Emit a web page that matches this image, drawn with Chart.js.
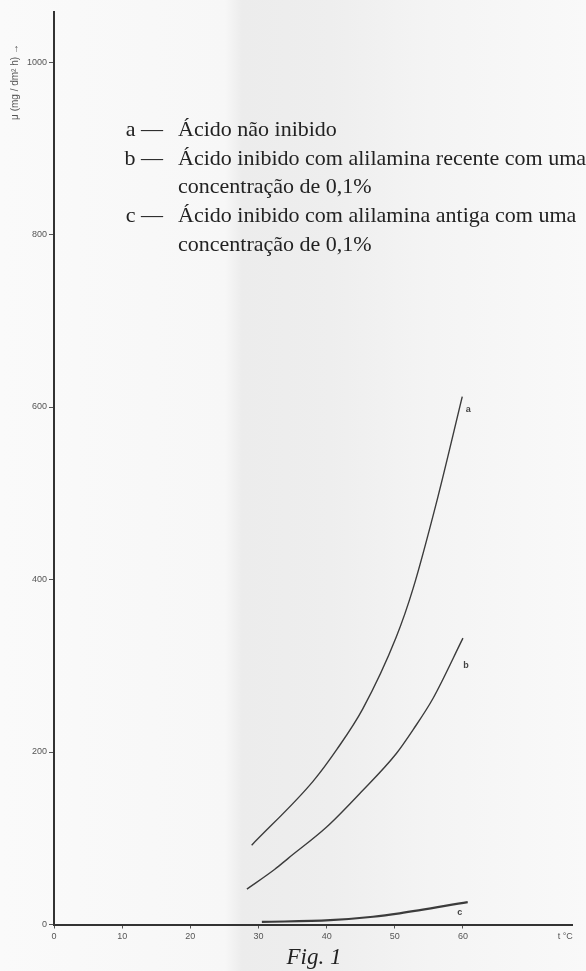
<!DOCTYPE html>
<html>
<head>
<meta charset="utf-8">
<script src="https://cdn.jsdelivr.net/npm/chart.js@4.4.0/dist/chart.umd.min.js"></script>
<style>
  body {
    margin: 0;
    background: linear-gradient(to right, #fafafa 0px, #f7f7f7 225px, #ececec 242px, #eeeeee 330px, #f4f4f4 430px, #f9f9f9 586px);
  }
  #wrap { position: relative; width: 586px; height: 971px; }
</style>
</head>
<body>
<div id="wrap"><canvas id="myChart"></canvas></div>
<script>
// values (t in °C, rate in mg/dm² h)
const tempA = [29, 38, 41.5, 45.3, 50.2, 52.7, 56.3, 59.9];
const rateA = [92, 166, 203, 250, 333, 390, 495, 612];

const tempB = [28.3, 32.4, 34.4, 40, 45, 50.2, 52.7, 55.6, 60];
const rateB = [41, 64, 77, 113, 153, 198, 226, 262, 332];

const tempC = [30.5, 40.5, 46.8, 50.7, 60.7];
const rateC = [3, 5, 9, 13, 26];

const curveNames = ["a", "b", "c"];
const xTicks = [0, 10, 20, 30, 40, 50, 60];
const yTicks = [0, 200, 400, 600, 800, 1000];
const unitTick = 75;
const unitLabel = "t °C";
const yTitle = "μ (mg / dm² h) →";
const figCaption = "Fig. 1";

const legendItems = [
  { key: "a", lines: ["Ácido não inibido"] },
  { key: "b", lines: ["Ácido inibido com alilamina recente com uma", "concentração de 0,1%"] },
  { key: "c", lines: ["Ácido inibido com alilamina antiga com uma", "concentração de 0,1%"] }
];

const toPoints = (xs, ys) => xs.map((x, i) => ({ x: x, y: ys[i] }));

const ink = "#333";

// texts the library has no place for: key, curve letters, axis title, caption
const annotations = {
  id: "annotations",
  afterDraw: (chart) => {
    const ctx = chart.ctx;
    ctx.save();
    ctx.fillStyle = "#222";
    ctx.textBaseline = "middle";

    // key at the top
    ctx.font = '22px "Liberation Serif"';
    let y = 130;
    legendItems.forEach((item) => {
      ctx.textAlign = "right";
      ctx.fillText(item.key + " —", 163, y);
      ctx.textAlign = "left";
      item.lines.forEach((line) => {
        ctx.fillText(line, 178, y);
        y += 28.8;
      });
    });

    // letters next to the curve ends
    const offsets = [[6, 13], [3, 27], [-8, 10]];
    ctx.font = 'bold 9px "Liberation Sans"';
    ctx.fillStyle = "#444";
    ctx.textAlign = "center";
    curveNames.forEach((name, i) => {
      const pts = chart.getDatasetMeta(i).data;
      const last = pts[pts.length - 1];
      ctx.fillText(name, last.x + offsets[i][0], last.y + offsets[i][1]);
    });

    // rotated y title
    ctx.save();
    ctx.translate(15, 82);
    ctx.rotate(-Math.PI / 2);
    ctx.font = '10px "Liberation Sans"';
    ctx.fillStyle = "#555";
    ctx.fillText(yTitle, 0, 0);
    ctx.restore();

    // caption
    ctx.font = 'italic 23px "Liberation Serif"';
    ctx.fillStyle = "#222";
    ctx.textAlign = "center";
    ctx.fillText(figCaption, 314, 958);
    ctx.restore();
  }
};

const makeSet = (label, xs, ys, width) => ({
  label: label,
  data: toPoints(xs, ys),
  borderColor: "#3c3c3c",
  borderWidth: width,
  pointRadius: 0,
  fill: false,
  cubicInterpolationMode: "monotone"
});

const createChart = () => {
  const ctx = document.getElementById("myChart").getContext("2d");
  new Chart(ctx, {
    type: "line",
    data: {
      datasets: [
        makeSet(curveNames[0], tempA, rateA, 1.4),
        makeSet(curveNames[1], tempB, rateB, 1.4),
        makeSet(curveNames[2], tempC, rateC, 2.2)
      ]
    },
    options: {
      responsive: true,
      maintainAspectRatio: false,
      animation: false,
      layout: { padding: { top: 12, right: 14, bottom: 0, left: 0 } },
      plugins: {
        legend: { display: false },
        tooltip: { enabled: false }
      },
      scales: {
        x: {
          type: "linear",
          min: 0,
          max: 76,
          afterBuildTicks: (scale) => {
            scale.ticks = xTicks.concat([unitTick]).map((v) => ({ value: v }));
          },
          afterFit: (scale) => { scale.height = 46.5; },
          border: { display: true, color: ink, width: 2 },
          grid: {
            drawOnChartArea: false,
            drawTicks: true,
            tickLength: 4,
            tickColor: (c) => (c.tick && c.tick.value === unitTick ? "rgba(0,0,0,0)" : "#555")
          },
          ticks: {
            color: "#555",
            padding: 3,
            maxRotation: 0,
            font: { family: "Liberation Sans", size: 9 },
            callback: (v) => (v === unitTick ? unitLabel : String(v))
          }
        },
        y: {
          min: 0,
          max: 1058,
          afterBuildTicks: (scale) => {
            scale.ticks = yTicks.map((v) => ({ value: v }));
          },
          afterFit: (scale) => { scale.width = 54; },
          border: { display: true, color: ink, width: 2 },
          grid: {
            drawOnChartArea: false,
            drawTicks: true,
            tickLength: 5,
            tickColor: "#555"
          },
          ticks: {
            color: "#555",
            padding: 2,
            font: { family: "Liberation Sans", size: 9 },
            callback: (v) => String(v)
          }
        }
      }
    },
    plugins: [annotations]
  });
};

createChart();
</script>
</body>
</html>
